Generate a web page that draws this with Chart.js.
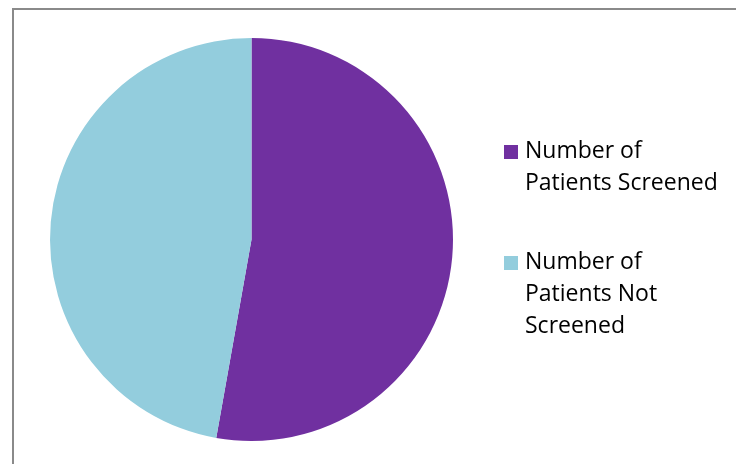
<!DOCTYPE html>
<html>
<head>
<meta charset="utf-8">
<script src="https://cdn.jsdelivr.net/npm/chart.js@4"></script>
<style>
  html, body { margin: 0; padding: 0; background: #fff; }
  #wrap { position: relative; width: 736px; height: 464px; overflow: hidden; }
  #frame { position: absolute; left: 12px; top: 8px; width: 800px; height: 500px; border: 2px solid #8a8a8a; box-sizing: border-box; }
  #pie { position: absolute; left: 0; top: 0; }
</style>
</head>
<body>
<div id="wrap">
  <div id="frame"></div>
  <canvas id="pie" width="736" height="464"></canvas>
</div>
<script>
var labels = [["Number of", "Patients Screened"], ["Number of", "Patients Not", "Screened"]];
var values = [52.8, 47.2];
var colors = ['#7030A0', '#93CDDD'];

// legend drawn next to the pie, Excel style (square + wrapped text)
var sideLegend = {
  id: 'sideLegend',
  afterDraw: function (chart) {
    var ctx = chart.ctx;
    var y = 158;
    ctx.save();
    ctx.font = '23px "Open Sans"';
    ctx.textBaseline = 'alphabetic';
    chart.data.labels.forEach(function (lines, i) {
      ctx.fillStyle = chart.data.datasets[0].backgroundColor[i];
      ctx.fillRect(504, y - 13, 14, 14);
      ctx.fillStyle = '#000';
      lines.forEach(function (line, k) {
        ctx.fillText(line, 525, y + k * 32);
      });
      y += lines.length * 32 + 47;
    });
    ctx.restore();
  }
};

new Chart(document.getElementById("pie"), {
  type: 'pie',
  data: {
    labels: labels,
    datasets: [{
      data: values,
      backgroundColor: colors,
      borderWidth: 0
    }]
  },
  options: {
    responsive: false,
    animation: false,
    layout: { padding: { left: 50, top: 38, right: 283, bottom: 23 } },
    plugins: {
      legend: { display: false },
      tooltip: { enabled: true }
    }
  },
  plugins: [sideLegend]
});
</script>
</body>
</html>
